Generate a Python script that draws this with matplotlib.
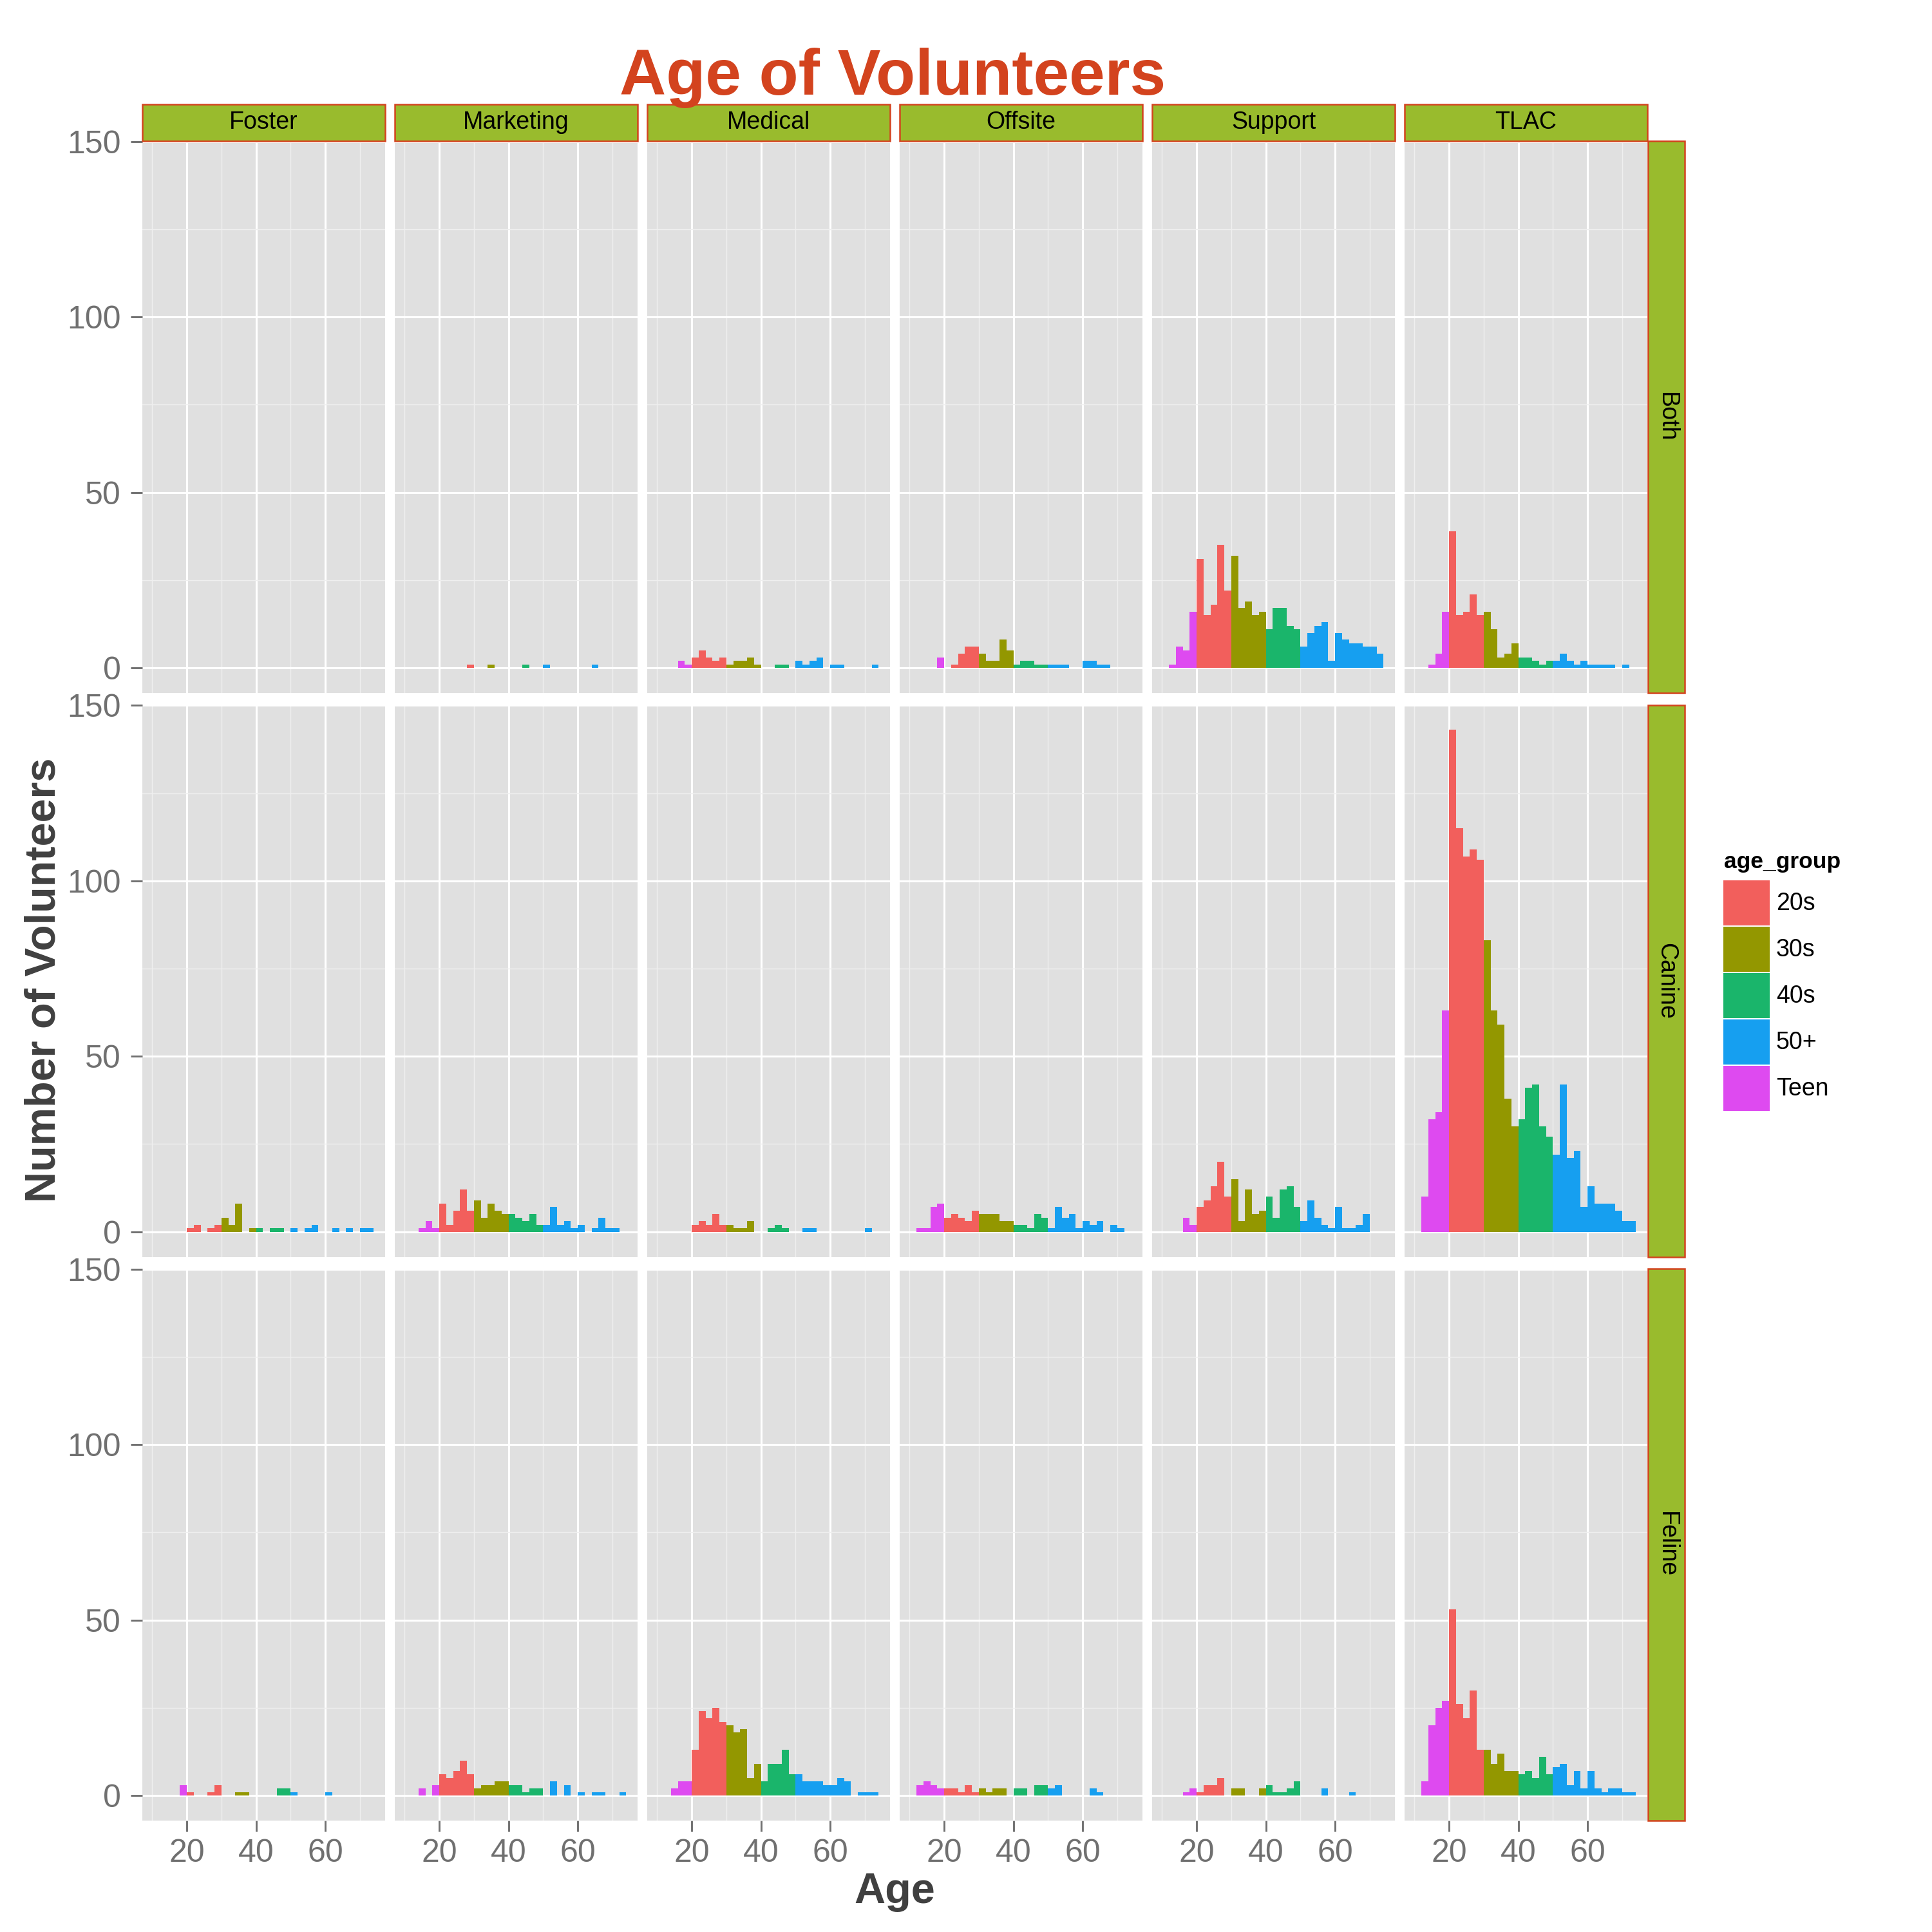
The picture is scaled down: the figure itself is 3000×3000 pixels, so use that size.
import matplotlib
matplotlib.use("Agg")
import matplotlib.pyplot as plt
from matplotlib.patches import Rectangle

plt.rcParams['font.family'] = ['Liberation Sans', 'DejaVu Sans']

# ---------------- data ----------------
title = "Age of Volunteers"
x_label = "Age"
y_label = "Number of Volunteers"
columns = ["Foster", "Marketing", "Medical", "Offsite", "Support", "TLAC"]
rows = ["Both", "Canine", "Feline"]
age_groups = ["20s", "30s", "40s", "50+", "Teen"]

# left edge of each 2-year age bin
bin_starts = [12, 14, 16, 18, 20, 22, 24, 26, 28, 30, 32, 34, 36, 38, 40, 42,
              44, 46, 48, 50, 52, 54, 56, 58, 60, 62, 64, 66, 68, 70, 72]
bin_width = 2

x_ticks = [20, 40, 60]
y_ticks = [0, 50, 100, 150]

# counts per bin (teen 12-18 | 20s | 30s | 40s | 50+ 50-72)
both_foster    = [0, 0, 0, 0,  0, 0, 0, 0, 0,  0, 0, 0, 0, 0,  0, 0, 0, 0, 0,  0, 0, 0, 0, 0, 0, 0, 0, 0, 0, 0, 0]
both_marketing = [0, 0, 0, 0,  0, 0, 0, 0, 1,  0, 0, 1, 0, 0,  0, 0, 1, 0, 0,  1, 0, 0, 0, 0, 0, 0, 1, 0, 0, 0, 0]
both_medical   = [0, 0, 2, 1,  3, 5, 3, 2, 3,  1, 2, 2, 3, 1,  0, 0, 1, 1, 0,  2, 1, 2, 3, 0, 1, 1, 0, 0, 0, 0, 1]
both_offsite   = [0, 0, 0, 3,  0, 1, 4, 6, 6,  4, 2, 2, 8, 5,  1, 2, 2, 1, 1,  1, 1, 1, 0, 0, 2, 2, 1, 1, 0, 0, 0]
both_support   = [1, 6, 5, 16, 31, 15, 18, 35, 22, 32, 17, 19, 15, 16, 11, 17, 17, 12, 11, 6, 10, 12, 13, 2, 10, 8, 7, 7, 6, 6, 4]
both_tlac      = [0, 1, 4, 16, 39, 15, 16, 21, 15, 16, 11, 3, 4, 7,  3, 3, 2, 1, 2,  2, 4, 2, 1, 2, 1, 1, 1, 1, 0, 1, 0]

canine_foster    = [0, 0, 0, 0,  1, 2, 0, 1, 2,  4, 2, 8, 0, 1,  1, 0, 1, 1, 0,  1, 0, 1, 2, 0, 0, 1, 0, 1, 0, 1, 1]
canine_marketing = [0, 1, 3, 1,  8, 2, 6, 12, 6, 9, 4, 8, 6, 5,  5, 4, 3, 5, 2,  2, 7, 2, 3, 1, 2, 0, 1, 4, 1, 1, 0]
canine_medical   = [0, 0, 0, 0,  2, 3, 2, 5, 2,  2, 1, 1, 3, 0,  0, 1, 2, 1, 0,  0, 1, 1, 0, 0, 0, 0, 0, 0, 0, 1, 0]
canine_offsite   = [1, 1, 7, 8,  4, 5, 4, 3, 6,  5, 5, 5, 3, 3,  2, 2, 1, 5, 4,  1, 7, 4, 5, 1, 3, 2, 3, 0, 2, 1, 0]
canine_support   = [0, 0, 4, 2,  7, 9, 13, 20, 10, 15, 3, 12, 5, 6, 10, 4, 12, 13, 7, 3, 9, 4, 2, 1, 7, 1, 1, 2, 5, 0, 0]
canine_tlac      = [10, 32, 34, 63, 143, 115, 107, 109, 106, 83, 63, 59, 38, 30, 32, 41, 42, 30, 27,
                    22, 42, 21, 23, 7, 13, 8, 8, 8, 6, 3, 3]

feline_foster    = [0, 0, 0, 3,  1, 0, 0, 1, 3,  0, 0, 1, 1, 0,  0, 0, 0, 2, 2,  1, 0, 0, 0, 0, 1, 0, 0, 0, 0, 0, 0]
feline_marketing = [0, 2, 0, 3,  6, 5, 7, 10, 6, 2, 3, 3, 4, 4,  3, 3, 1, 2, 2,  0, 4, 0, 3, 0, 1, 0, 1, 1, 0, 0, 1]
feline_medical   = [0, 2, 4, 4,  13, 24, 22, 25, 21, 20, 18, 19, 5, 9, 4, 9, 9, 13, 6, 6, 4, 4, 4, 3, 3, 5, 4, 0, 1, 1, 1]
feline_offsite   = [3, 4, 3, 2,  2, 2, 1, 3, 1,  2, 1, 2, 2, 0,  2, 2, 0, 3, 3,  2, 3, 0, 0, 0, 0, 2, 1, 0, 0, 0, 0]
feline_support   = [0, 0, 1, 2,  1, 3, 3, 5, 0,  2, 2, 0, 0, 2,  3, 1, 1, 2, 4,  0, 0, 0, 2, 0, 0, 0, 1, 0, 0, 0, 0]
feline_tlac      = [4, 20, 25, 27, 53, 26, 22, 30, 13, 13, 9, 12, 7, 7, 6, 7, 5, 11, 6,
                    8, 9, 3, 7, 2, 7, 2, 1, 2, 2, 1, 1]

counts = {
    ("Both", "Foster"): both_foster, ("Both", "Marketing"): both_marketing,
    ("Both", "Medical"): both_medical, ("Both", "Offsite"): both_offsite,
    ("Both", "Support"): both_support, ("Both", "TLAC"): both_tlac,
    ("Canine", "Foster"): canine_foster, ("Canine", "Marketing"): canine_marketing,
    ("Canine", "Medical"): canine_medical, ("Canine", "Offsite"): canine_offsite,
    ("Canine", "Support"): canine_support, ("Canine", "TLAC"): canine_tlac,
    ("Feline", "Foster"): feline_foster, ("Feline", "Marketing"): feline_marketing,
    ("Feline", "Medical"): feline_medical, ("Feline", "Offsite"): feline_offsite,
    ("Feline", "Support"): feline_support, ("Feline", "TLAC"): feline_tlac,
}

# ---------------- styles ----------------
group_colors = {"20s": "#F25F5C", "30s": "#939700", "40s": "#1AB56B",
                "50+": "#169FF0", "Teen": "#DE4AF0"}


def group_of(age):
    if age < 20:
        return "Teen"
    if age < 30:
        return "20s"
    if age < 40:
        return "30s"
    if age < 50:
        return "40s"
    return "50+"


bar_colors = [group_colors[group_of(a)] for a in bin_starts]

panel_bg = "#E0E0E0"
strip_fill = "#99BB2D"
accent = "#D3431E"
tick_gray = "#707070"
title_gray = "#404040"

W = H = 3000.0
fig = plt.figure(figsize=(10, 10), dpi=300)

col_left = [221, 613, 1005, 1397, 1789, 2181]
panel_w = 377
row_top = [219, 1094.5, 1970]
panel_h = 857


def fr(x0, y_top, w, h):
    return [x0 / W, 1 - (y_top + h) / W, w / W, h / W]


for ri, rname in enumerate(rows):
    for ci, cname in enumerate(columns):
        ax = fig.add_axes(fr(col_left[ci], row_top[ri], panel_w, panel_h))
        ax.set_facecolor(panel_bg)
        ax.set_axisbelow(True)
        ax.bar(bin_starts, counts[(rname, cname)], width=bin_width, align="edge",
               color=bar_colors, linewidth=0)
        ax.set_xlim(7.15, 77.3)
        ax.set_ylim(-7.15, 150.15)
        ax.set_xticks(x_ticks)
        ax.set_xticks([10, 30, 50, 70], minor=True)
        ax.set_yticks(y_ticks)
        ax.set_yticks([25, 75, 125], minor=True)
        ax.grid(which="major", color="white", linewidth=0.75)
        ax.grid(which="minor", color="#EFEFEF", linewidth=0.35)
        for s in ax.spines.values():
            s.set_visible(False)
        ax.tick_params(which="minor", length=0)
        ax.tick_params(axis="y", which="major", length=4.3, width=0.7, color=tick_gray,
                       labelsize=12, labelcolor=tick_gray, pad=3.6)
        ax.tick_params(axis="x", which="major", length=4.1, width=0.7, color=tick_gray,
                       labelsize=12, labelcolor=tick_gray, pad=2.6)
        ax.set_yticklabels([str(v) for v in y_ticks])
        ax.set_xticklabels([str(v) for v in x_ticks])
        if ci != 0:
            ax.tick_params(axis="y", length=0, labelleft=False)
        if ri != len(rows) - 1:
            ax.tick_params(axis="x", length=0, labelbottom=False)

# top strips
strip_top = 162
strip_h = 57
for ci, cname in enumerate(columns):
    x0 = col_left[ci]
    fig.patches.append(Rectangle((x0 / W, 1 - (strip_top + strip_h) / W), panel_w / W, strip_h / W,
                                 transform=fig.transFigure, facecolor=strip_fill,
                                 edgecolor=accent, linewidth=0.6))
    fig.text((x0 + panel_w / 2) / W, 1 - (strip_top + strip_h / 2) / W, cname,
             ha="center", va="center", fontsize=9, color="black")

# right strips
rs_left = 2559
rs_w = 57
for ri, rname in enumerate(rows):
    y0 = row_top[ri]
    fig.patches.append(Rectangle((rs_left / W, 1 - (y0 + panel_h) / W), rs_w / W, panel_h / W,
                                 transform=fig.transFigure, facecolor=strip_fill,
                                 edgecolor=accent, linewidth=0.6))
    fig.text((rs_left + rs_w / 2) / W, 1 - (y0 + panel_h / 2) / W, rname,
             ha="center", va="center", rotation=270, fontsize=9, color="black")

# titles
fig.text(1386 / W, 1 - 147 / W, title, ha="center", va="baseline",
         fontsize=24, fontweight="bold", color=accent)
fig.text(1389 / W, 1 - 2955 / W, x_label, ha="center", va="baseline",
         fontsize=16, fontweight="bold", color=title_gray)
fig.text(69 / W, 1 - 1522 / W, y_label, ha="center", va="center", rotation=90,
         fontsize=16, fontweight="bold", color=title_gray)

# legend
fig.text(2677 / W, 1 - 1348 / W, "age_group", ha="left", va="baseline",
         fontsize=8.5, fontweight="bold", color="black")
key_top = 1367
key_pitch = 72
for i, g in enumerate(age_groups):
    yt = key_top + i * key_pitch
    fig.patches.append(Rectangle((2676 / W, 1 - (yt + 70) / W), 72 / W, 70 / W,
                                 transform=fig.transFigure, facecolor=group_colors[g],
                                 edgecolor="none"))
    fig.text(2758 / W, 1 - (yt + 36) / W, g, ha="left", va="center",
             fontsize=9, color="black")

fig.savefig("out.png", dpi=300, facecolor="white")
